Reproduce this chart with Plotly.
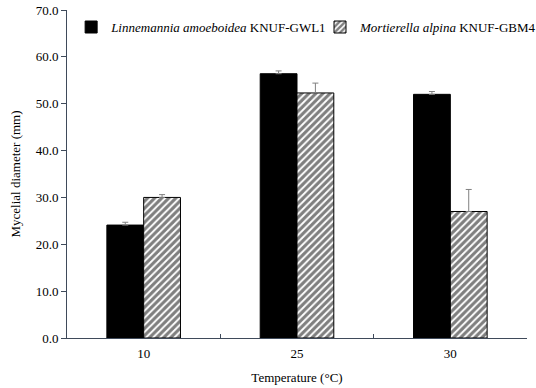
import plotly.graph_objects as go

categories = ["10", "25", "30"]
linnemannia = [24.1, 56.4, 52.0]
linnemannia_err = [0.6, 0.6, 0.6]
mortierella = [30.0, 52.3, 27.0]
mortierella_err = [0.6, 2.1, 4.7]
y_ticks = [0, 10, 20, 30, 40, 50, 60, 70]

FONT = "Liberation Serif, Times New Roman, serif"
FS = 13
AXIS_COLOR = "#3f4a5a"

fig = go.Figure()
fig.add_trace(go.Bar(
    x=categories, y=linnemannia,
    name="<i>Linnemannia amoeboidea</i> KNUF-GWL1",
    legend="legend",
    marker=dict(color="black", line=dict(color="black", width=1)),
    error_y=dict(type="data", array=linnemannia_err, arrayminus=[0, 0, 0],
                 symmetric=False, color="#808080", thickness=1, width=3),
))
fig.add_trace(go.Bar(
    x=categories, y=mortierella,
    name="<i>Mortierella alpina</i> KNUF-GBM4",
    legend="legend2",
    marker=dict(color="white", line=dict(color="black", width=1),
                pattern=dict(shape="/", fgcolor="black", bgcolor="white",
                             size=5, solidity=0.62)),
    error_y=dict(type="data", array=mortierella_err, arrayminus=[0, 0, 0],
                 symmetric=False, color="#808080", thickness=1, width=3),
))

fig.update_layout(
    width=536, height=388,
    margin=dict(l=67, r=9, t=10, b=50, autoexpand=False),
    paper_bgcolor="white", plot_bgcolor="white",
    barmode="group", bargap=0.52, bargroupgap=0,
    font=dict(family=FONT, size=FS, color="black"),
    showlegend=True,
    legend=dict(orientation="h", x=0.009, y=0.948, xanchor="left", yanchor="middle",
                bgcolor="rgba(0,0,0,0)", font=dict(family=FONT, size=FS), itemwidth=30),
    legend2=dict(orientation="h", x=0.55, y=0.948, xanchor="left", yanchor="middle",
                 bgcolor="rgba(0,0,0,0)", font=dict(family=FONT, size=FS), itemwidth=30),
)
fig.update_xaxes(
    type="category", showline=True, linecolor=AXIS_COLOR, linewidth=1,
    ticks="inside", tickson="boundaries", ticklen=4, tickcolor=AXIS_COLOR,
    showgrid=False, zeroline=False, automargin=True, ticklabelstandoff=3,
    title=dict(text="Temperature (°C)", font=dict(family=FONT, size=FS), standoff=13),
    tickfont=dict(family=FONT, size=FS),
)
fig.update_yaxes(
    range=[0, 70], tickvals=y_ticks, tickformat=".1f",
    showline=True, linecolor=AXIS_COLOR, linewidth=1,
    ticks="outside", ticklen=5, tickcolor=AXIS_COLOR,
    showgrid=False, zeroline=False, automargin=True,
    title=dict(text="Mycelial diameter (mm)", font=dict(family=FONT, size=FS), standoff=12),
    tickfont=dict(family=FONT, size=FS),
)

# remove the browser's default 8px body margin so the figure sits at the page origin
fig.write_html("out.html", config={"displayModeBar": False},
               post_script="document.body.style.margin='0';")
